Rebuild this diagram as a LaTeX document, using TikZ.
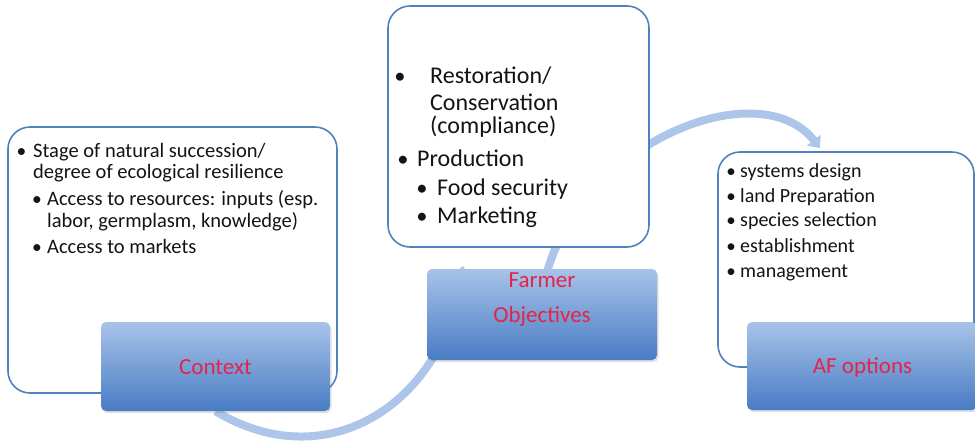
\documentclass[tikz,border=0pt]{standalone}
\usepackage{fontspec}
\setmainfont{Carlito}
\usetikzlibrary{arrows.meta,shadows}
\definecolor{boxline}{RGB}{79,129,189}
\definecolor{arcblue}{RGB}{172,197,232}
\definecolor{gradtop}{RGB}{168,195,233}
\definecolor{gradbot}{RGB}{72,124,196}
\definecolor{labred}{RGB}{228,36,72}
\definecolor{txt}{RGB}{20,20,20}
\pgfdeclarelayer{bg}
\pgfsetlayers{bg,main}
\begin{document}
\begin{tikzpicture}[x=1pt,y=-1pt,
  textbox/.style={draw=boxline, line width=1.6pt, rounded corners=22pt, fill=white, inner sep=0pt},
  labelbox/.style={rounded corners=5pt, top color=gradtop, bottom color=gradbot, inner sep=0pt,
    drop shadow={opacity=0.25,shadow xshift=1.5pt,shadow yshift=-2pt}},
  labeltext/.style={text=labred, font=\fontsize{23}{28}\selectfont},
  cycarrow/.style={draw=arcblue, line width=8pt, -{Triangle[width=17pt,length=10pt]}},
  ctxt/.style={anchor=base west, inner sep=0pt, text=txt, font=\fontsize{20.5}{22}\selectfont},
  otxt/.style={anchor=base west, inner sep=0pt, text=txt, font=\fontsize{24}{26}\selectfont},
  atxt/.style={anchor=base west, inner sep=0pt, text=txt, font=\fontsize{20}{22}\selectfont},
  bul/.style={anchor=base, inner sep=0pt, text=txt}
]
\useasboundingbox (0,0) rectangle (975,440);

% text boxes
\node[textbox, minimum width=329pt, minimum height=266pt] (ctxbox) at (172.5,260) {};
\node[textbox, minimum width=261pt, minimum height=241pt] (objbox) at (518.5,126.5) {};
\node[textbox, minimum width=256pt, minimum height=215pt] (afbox) at (846,259.5) {};

% label boxes
\node[labelbox, minimum width=229pt, minimum height=89pt] (ctxlab) at (215.5,366.5) {};
\node[labeltext] (ctxlabt) at (215.5,367) {Context};
\node[labelbox, minimum width=230pt, minimum height=91pt] (objlab) at (542,314.5) {};
\node[labeltext, anchor=base] (objlabt1) at (542,287) {Farmer};
\node[labeltext, anchor=base] (objlabt2) at (542,322) {Objectives};
\node[labelbox, minimum width=230pt, minimum height=88pt] (aflab) at (862,366) {};
\node[labeltext] (aflabt) at (862.5,367) {AF options};

% context list
\node[bul, font=\fontsize{19.5}{22}\selectfont] (cb1) at (21.5,157) {•};
\node[ctxt] (c1) at (33,157) {Stage of natural succession/};
\node[ctxt] (c2) at (33,178) {degree of ecological resilience};
\node[bul, font=\fontsize{19.5}{22}\selectfont] (cb2) at (37,205) {•};
\node[ctxt] (c3) at (47,205) {Access to resources: inputs (esp.};
\node[ctxt] (c4) at (47,227) {labor, germplasm, knowledge)};
\node[bul, font=\fontsize{19.5}{22}\selectfont] (cb3) at (37,253) {•};
\node[ctxt] (c5) at (47,253) {Access to markets};

% objectives list
\node[bul, font=\fontsize{22.5}{26}\selectfont] (ob1) at (400,83) {•};
\node[otxt] (o1) at (430,83) {Restoration/};
\node[otxt] (o2) at (430,110) {Conservation};
\node[otxt] (o3) at (430,133) {(compliance)};
\node[bul, font=\fontsize{22.5}{26}\selectfont] (ob2) at (403,166) {•};
\node[otxt] (o4) at (417,166) {Production};
\node[bul, font=\fontsize{22.5}{26}\selectfont] (ob3) at (422,195) {•};
\node[otxt] (o5) at (437,195) {Food security};
\node[bul, font=\fontsize{22.5}{26}\selectfont] (ob4) at (422,223) {•};
\node[otxt] (o6) at (437,223) {Marketing};

% AF list
\node[bul, font=\fontsize{19}{22}\selectfont] (ab1) at (731,177) {•};
\node[atxt] (a1) at (740,177) {systems design};
\node[bul, font=\fontsize{19}{22}\selectfont] (ab2) at (731,202) {•};
\node[atxt] (a2) at (740,202) {land Preparation};
\node[bul, font=\fontsize{19}{22}\selectfont] (ab3) at (731,226) {•};
\node[atxt] (a3) at (740,226) {species selection};
\node[bul, font=\fontsize{19}{22}\selectfont] (ab4) at (731,252) {•};
\node[atxt] (a4) at (740,252) {establishment};
\node[bul, font=\fontsize{19}{22}\selectfont] (ab5) at (731,277) {•};
\node[atxt] (a5) at (740,277) {management};

% cycle arrows (behind)
\coordinate (tip1) at (463,266);
\coordinate (s2) at (547,272);
\coordinate (tip2) at (820,148);
\begin{pgfonlayer}{bg}
\draw[cycarrow] (ctxlab.south) .. controls (330,480) and (445,400) .. (tip1);
\draw[cycarrow] (s2) .. controls (585,140) and (760,72) .. (tip2);
\end{pgfonlayer}
\end{tikzpicture}
\end{document}
